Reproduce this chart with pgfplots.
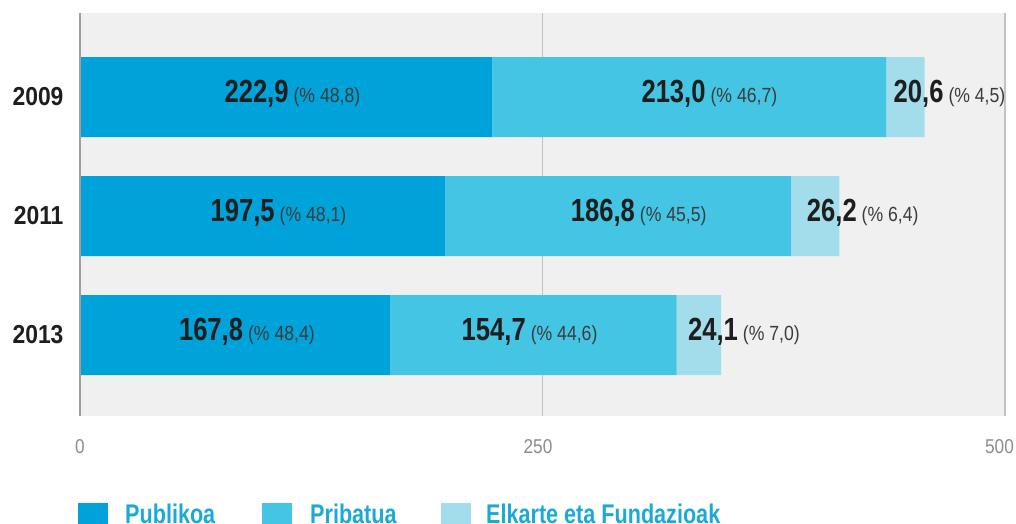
\documentclass[border=0pt]{standalone}
\usepackage{pgfplots}
\pgfplotsset{compat=1.18}
\usepackage{fontspec}
\setmainfont{Liberation Sans}
\newfontfamily\lblfont{Liberation Sans Bold}[FakeStretch=0.88]
\newfontfamily\legfont{Liberation Sans Bold}[FakeStretch=0.80]
\newfontfamily\valfont{Liberation Sans Bold}[FakeStretch=0.80]
\newfontfamily\pctfont{Liberation Sans}[FakeStretch=0.86]
\definecolor{pub}{RGB}{0,163,217}
\definecolor{pri}{RGB}{69,197,228}
\definecolor{elk}{RGB}{163,220,235}
\definecolor{bg}{RGB}{240,240,240}
\definecolor{gridc}{RGB}{195,195,195}
\definecolor{axc}{RGB}{160,160,160}
\definecolor{tickc}{RGB}{140,140,140}
\definecolor{legc}{RGB}{27,169,214}
\definecolor{txt}{RGB}{30,30,30}
\definecolor{pct}{RGB}{60,60,60}
\newcommand{\lab}[2]{{\valfont\fontsize{32}{32}\selectfont #1}\hspace{5pt}{\pctfont\fontsize{20.5}{20.5}\selectfont\color{pct}(\% #2)}}
\pgfplotsset{common/.style={
  at={(80pt,108pt)}, anchor=south west,
  width=925pt, height=403pt, scale only axis,
  xmin=0, xmax=500, ymin=-0.68, ymax=2.706, clip=false}}
\begin{document}
\begin{tikzpicture}
\path[use as bounding box] (0pt,0pt) rectangle (1016pt,524pt);
\begin{axis}[
  common,
  xbar stacked, bar width=0.672,
  ytick={0,1,2}, yticklabels={2013,2011,2009},
  xtick={0,250,500}, xticklabels={0,{\kern-9pt 250},{\kern-11pt 500}},
  axis background/.style={fill=bg},
  axis line style={draw=none},
  major tick length=0pt,
  xmajorgrids, grid style={gridc, line width=1.3pt},
  yticklabel style={font=\lblfont\fontsize{26}{26}\selectfont, text=txt, xshift=-13pt},
  xticklabel style={font=\pctfont\fontsize{20}{20}\selectfont, text=tickc, yshift=-20pt},
  /pgf/number format/assume math mode=true,
]
\addplot[fill=pub, draw=none] coordinates {(222.9,2) (197.5,1) (167.8,0)};
\addplot[fill=pri, draw=none] coordinates {(213.0,2) (186.8,1) (154.7,0)};
\addplot[fill=elk, draw=none] coordinates {(20.6,2) (26.2,1) (24.1,0)};
\end{axis}
\begin{axis}[common, hide axis]
\draw[axc, line width=2.2pt] (axis cs:0,-0.68) -- (axis cs:0,2.706);
\node[text=txt] at (axis cs:114.8,2.03) {\lab{222,9}{48,8}};
\node[text=txt] at (axis cs:340.2,2.03) {\lab{213,0}{46,7}};
\node[text=txt] at (axis cs:470.0,2.03) {\lab{20,6}{4,5}};
\node[text=txt] at (axis cs:107.3,1.03) {\lab{197,5}{48,1}};
\node[text=txt] at (axis cs:302.0,1.03) {\lab{186,8}{45,5}};
\node[text=txt] at (axis cs:423.1,1.03) {\lab{26,2}{6,4}};
\node[text=txt] at (axis cs:90.2,0.03) {\lab{167,8}{48,4}};
\node[text=txt] at (axis cs:243.0,0.03) {\lab{154,7}{44,6}};
\node[text=txt] at (axis cs:358.9,0.03) {\lab{24,1}{7,0}};
\end{axis}
\fill[pub] (78pt,0pt) rectangle (108pt,21pt);
\fill[pri] (262pt,0pt) rectangle (292pt,21pt);
\fill[elk] (441pt,0pt) rectangle (471pt,21pt);
\node[anchor=base west, inner sep=0pt, text=legc, font=\legfont\fontsize{27}{27}\selectfont] at (125pt,0.5pt) {Publikoa};
\node[anchor=base west, inner sep=0pt, text=legc, font=\legfont\fontsize{27}{27}\selectfont] at (310pt,0.5pt) {Pribatua};
\node[anchor=base west, inner sep=0pt, text=legc, font=\legfont\fontsize{27}{27}\selectfont] at (486pt,0.5pt) {Elkarte eta Fundazioak};
\end{tikzpicture}
\end{document}
